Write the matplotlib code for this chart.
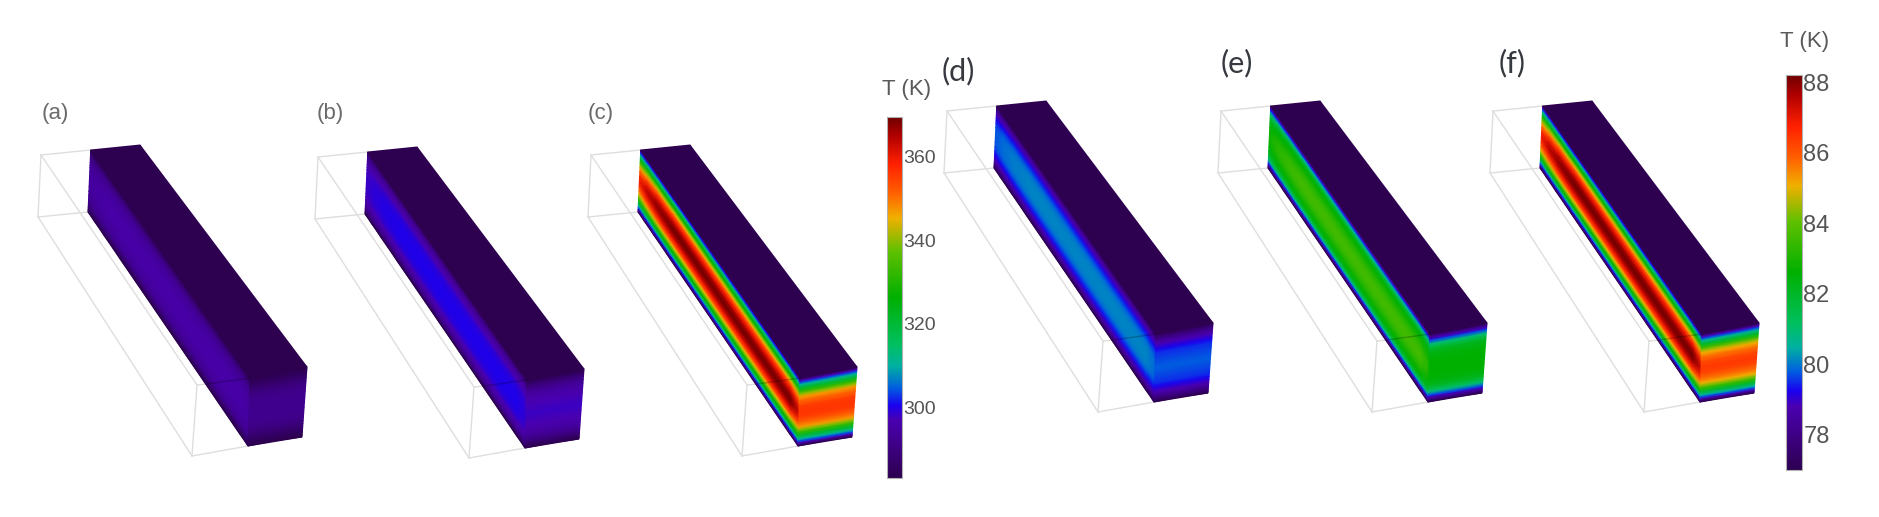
import numpy as np
import matplotlib
matplotlib.use("Agg")
import matplotlib.pyplot as plt
from matplotlib.cm import ScalarMappable
from matplotlib.colors import LinearSegmentedColormap, Normalize

W, H = 1879, 517

# colour scale (fraction from bottom, colour)
CMAP_POS = [0, .08, .16, .20, .25, .31, .37, .50, .63, .72, .79, .87, .95, 1]
CMAP_COLORS = ["#2d0050", "#3c0080", "#4a00b0", "#1a00f0", "#0060e0", "#00b0a0", "#00c060",
               "#00b000", "#60c000", "#f0b000", "#ff6000", "#ff2000", "#b00000", "#700000"]

LEFT_RANGE = (283, 369.5)
RIGHT_RANGE = (77, 88.2)
LEFT_TICKS = [300, 320, 340, 360]
RIGHT_TICKS = [78, 80, 82, 84, 86, 88]

# temperature across the face height, from the edge to the middle (K)
S_HALF = [0, .02, .04, .07, .10, .15, .20, .24, .28, .34, .42, .5]
SIDE_A = [283, 284, 285.5, 288, 290, 292, 293.5, 294, 294.5, 295, 295.5, 295.5]
SIDE_B = [283, 285, 288, 291, 293, 295.5, 297, 298, 299, 299.5, 300, 300]
SIDE_C = [283, 290, 300, 307, 315, 326, 338, 345, 352, 359, 366, 369.5]
SIDE_D = [77, 77.4, 77.8, 78.2, 78.6, 79, 79.4, 79.6, 79.8, 80, 80.1, 80.1]
SIDE_E = [77, 77.7, 78.8, 79.6, 80.5, 81.7, 82.4, 82.7, 82.9, 83.2, 83.5, 83.6]
SIDE_F = [77, 77.9, 79.2, 80.1, 81.1, 82.6, 84.2, 85.1, 86, 86.9, 87.8, 88.2]

END_A = [283, 283.5, 284, 285, 286, 287.5, 289, 290, 291, 291.5, 292, 292]
END_B = [283, 284, 285.5, 287.5, 289.5, 292, 294, 295, 296, 297, 297.5, 298]
END_C = [283, 288, 297, 304, 311, 321, 332, 340, 347, 351, 355, 356]
END_D = [77, 77.3, 77.6, 78, 78.3, 78.8, 79.1, 79.3, 79.5, 79.6, 79.7, 79.8]
END_E = [77, 77.5, 78.2, 78.9, 79.7, 80.9, 81.7, 82.1, 82.3, 82.5, 82.6, 82.6]
END_F = [77, 77.7, 78.8, 79.7, 80.6, 81.9, 83.4, 84.4, 85.1, 85.7, 86.2, 86.4]

# share of the heating along the bar length
ALONG_T = [0, .04, .1, .2, .95, 1]
ALONG_F = [.88, .93, .97, 1, 1, .92]

LABELS = ["(a)", "(b)", "(c)", "(d)", "(e)", "(f)"]

# screen geometry of panel (a), other panels are shifted copies
OFFSETS = [(0, 0), (277, 2), (550, 0), (906, -44), (1180, -44), (1452, -44)]
TOP_FACE = [(90.7, 150), (140, 145), (250, 378), (307, 367)]
SIDE_FACE = [(90.7, 150), (88, 212), (250, 378), (248, 446)]
END_FACE = [(250, 378), (248, 446), (307, 367), (302, 437)]
WIRES = [((41, 155), (90.7, 150)), ((41, 155), (38, 217)), ((38, 217), (88, 212)),
         ((41, 155), (197, 385)), ((38, 217), (192, 456)), ((197, 385), (192, 456)),
         ((192, 456), (248, 446)), ((197, 385), (207, 384))]
LABEL_POS = [(55, 113), (330, 113), (601, 113), (958, 71), (1237, 63), (1512, 63)]

cmap = LinearSegmentedColormap.from_list("comsol_rainbow", list(zip(CMAP_POS, CMAP_COLORS)), N=512)
norm_left = Normalize(*LEFT_RANGE)
norm_right = Normalize(*RIGHT_RANGE)


def mirror(half):
    half = np.asarray(half, float)
    return np.r_[half, half[-2::-1]]


S_FULL = np.r_[S_HALF, 1 - np.array(S_HALF)[-2::-1]]


def draw_face(ax, corners, offset, s, t, field, norm):
    # corners: s=0/t=0, s=1/t=0, s=0/t=1, s=1/t=1
    p00, p10, p01, p11 = [np.array(c, float) + offset for c in corners]
    ss, tt = np.meshgrid(s, t)
    x = (1 - ss) * (1 - tt) * p00[0] + ss * (1 - tt) * p10[0] + (1 - ss) * tt * p01[0] + ss * tt * p11[0]
    y = (1 - ss) * (1 - tt) * p00[1] + ss * (1 - tt) * p10[1] + (1 - ss) * tt * p01[1] + ss * tt * p11[1]
    ax.pcolormesh(x, y, field, shading="gouraud", cmap=cmap, norm=norm, zorder=3)


plt.rcParams["font.family"] = ["Liberation Sans", "DejaVu Sans"]
fig = plt.figure(figsize=(W / 100, H / 100), dpi=100, facecolor="white")
ax = fig.add_axes([0, 0, 1, 1])
ax.set_xlim(0, W)
ax.set_ylim(H, 0)
ax.axis("off")

sides = [SIDE_A, SIDE_B, SIDE_C, SIDE_D, SIDE_E, SIDE_F]
ends = [END_A, END_B, END_C, END_D, END_E, END_F]

for i, (off, side, end) in enumerate(zip(OFFSETS, sides, ends)):
    off = np.array(off, float)
    norm = norm_left if i < 3 else norm_right
    tmin = norm.vmin

    for a, b in WIRES:
        ax.plot([a[0] + off[0], b[0] + off[0]], [a[1] + off[1], b[1] + off[1]],
                color="#dedede", lw=1, zorder=1)

    prof = mirror(side)
    field = np.array([tmin + (prof - tmin) * f for f in ALONG_F])
    draw_face(ax, SIDE_FACE, off, S_FULL, ALONG_T, field, norm)
    draw_face(ax, END_FACE, off, S_FULL, [0, 1], np.vstack([mirror(end), mirror(end)]), norm)
    draw_face(ax, TOP_FACE, off, [0, 1], [0, 1], np.full((2, 2), tmin), norm)

    # the hidden box edge shows faintly through the bar
    ax.plot([207 + off[0], 250 + off[0]], [384 + off[1], 378 + off[1]],
            color="black", lw=1, alpha=.22, zorder=4)

    if i < 3:
        ax.text(*LABEL_POS[i], LABELS[i], color="#6a6a6a", fontsize=16, ha="center", va="center", zorder=5)
    else:
        ax.text(*LABEL_POS[i], LABELS[i], color="#36393f", fontsize=22, family=["Lato", "DejaVu Sans"],
                ha="center", va="center", zorder=5)


def add_bar(x0, x1, y0, y1, norm, ticks, size, title_xy):
    cax = fig.add_axes([x0 / W, 1 - y1 / H, (x1 - x0) / W, (y1 - y0) / H])
    cb = fig.colorbar(ScalarMappable(norm=norm, cmap=cmap), cax=cax, ticks=ticks)
    cb.outline.set_edgecolor("#b0b0b0")
    cb.outline.set_linewidth(.8)
    cb.ax.tick_params(length=0, pad=1, labelsize=size, labelcolor="#555555")
    ax.text(*title_xy, "T (K)", color="#5a5a5a", fontsize=16, ha="center", va="center", zorder=5)


add_bar(887, 902, 117, 478, norm_left, LEFT_TICKS, 14, (907, 89))
add_bar(1786, 1802, 75, 470, norm_right, RIGHT_TICKS, 17, (1805, 41))

fig.savefig("out.png", dpi=100, facecolor="white")
